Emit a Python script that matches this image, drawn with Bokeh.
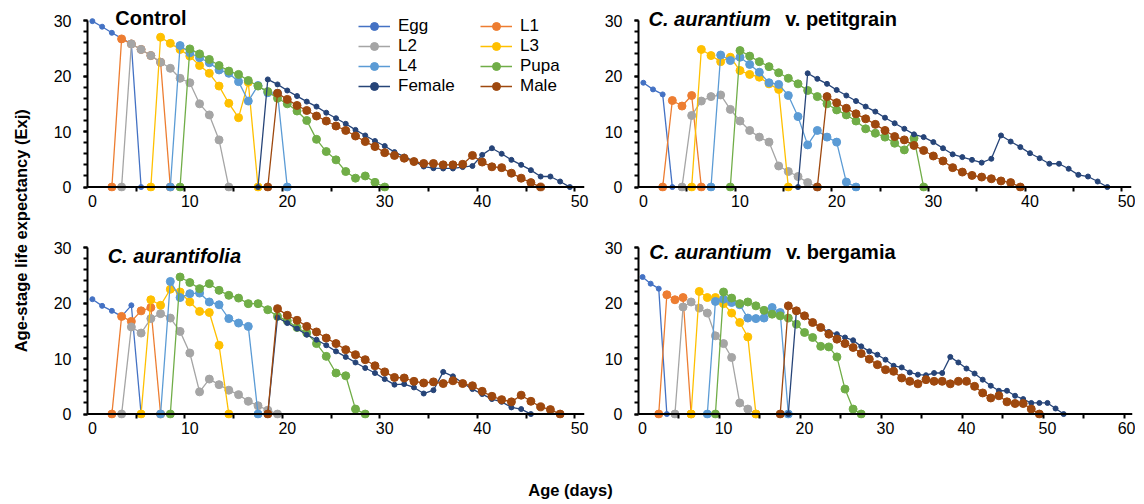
import math
from bokeh.plotting import figure
from bokeh.models import Range1d, FixedTicker, Label, Legend, LegendItem, Span
from bokeh.layouts import row, column
from bokeh.embed import file_html
from bokeh.resources import INLINE

STAGES = ["Egg", "L1", "L2", "L3", "L4", "Pupa", "Female", "Male"]
COLORS = ["#4472C4", "#ED7D31", "#A5A5A5", "#FFC000", "#5B9BD5", "#70AD47", "#264478", "#9E480E"]
SIZES = [5, 8, 8, 8, 8, 8, 5, 8]

# ---------------- Control ----------------
ctrl_start = [0, 2, 3, 6, 8, 9, 17, 18]
ctrl_egg = [29.9, 28.9, 27.8, 26.8, 25.8, 0]
ctrl_l1 = [0, 26.7, 25.8, 24.8, 23.7, 22.5, 0]
ctrl_l2 = [0, 25.8, 24.8, 23.7, 22.5, 21.4, 19.6, 18.8, 15.0, 13.0, 8.5, 0]
ctrl_l3 = [0, 27.0, 25.9, 24.8, 23.6, 21.9, 20.5, 18.2, 15.1, 12.5, 18.9, 0]
ctrl_l4 = [0, 25.5, 24.2, 23.3, 22.4, 21.1, 20.5, 19.0, 15.5, 18.3, 17.0, 16.9, 0]
ctrl_pupa = [0, 24.9, 24.0, 23.0, 21.9, 20.9, 20.3, 19.2, 18.2, 17.2, 16.0, 15.0, 13.7,
             12.0, 8.6, 6.4, 4.9, 2.8, 1.6, 2.0, 0.85, 0]
ctrl_female = [0, 19.4, 18.5, 17.4, 16.4, 15.4, 14.5, 13.4, 12.4, 11.4, 10.3, 9.3, 8.3,
               7.4, 6.3, 5.5, 4.7, 3.7, 3.4, 3.35, 3.35, 3.6, 3.8, 5.8, 7.0, 6.0, 4.9,
               4.0, 3.05, 1.9, 1.9, 1.0, 0]
ctrl_male = [0, 16.9, 15.8, 14.7, 13.8, 12.8, 11.9, 11.0, 10.2, 9.2, 8.2, 7.3, 6.2, 5.7,
             5.2, 4.6, 4.25, 4.25, 4.0, 4.0, 4.1, 5.7, 4.5, 3.65, 3.5, 2.5, 1.6, 0.8, 0]

# ---------------- C. aurantium v. petitgrain ----------------
pet_start = [0, 2, 4, 5, 7, 9, 16, 18]
pet_egg = [18.8, 17.6, 16.7, 0]
pet_l1 = [0, 15.6, 14.6, 16.5, 0]
pet_l2 = [0, 12.9, 15.5, 16.3, 16.6, 14.0, 11.9, 10.2, 9.0, 8.1, 3.8, 2.8, 1.9, 0.8, 0]
pet_l3 = [0, 24.8, 23.7, 22.6, 23.4, 21.0, 20.3, 19.8, 18.6, 17.6, 0]
pet_l4 = [0, 23.8, 22.8, 23.4, 22.1, 20.7, 18.8, 18.5, 16.5, 12.7, 7.6, 10.2, 9.0, 8.1, 0.9, 0]
pet_pupa = [0, 24.6, 23.6, 22.6, 21.7, 20.6, 19.6, 18.6, 17.4, 16.3, 15.0, 13.9, 13.0,
            11.9, 10.5, 9.7, 9.0, 7.9, 6.7, 8.8, 0]
pet_female = [0, 20.5, 19.5, 18.6, 17.5, 16.5, 15.5, 14.5, 13.6, 12.5, 11.5, 10.5, 9.5,
              9.0, 8.1, 7.0, 5.9, 5.4, 4.9, 4.4, 5.1, 9.3, 8.2, 7.2, 6.1, 5.2, 4.2, 4.2,
              3.3, 2.2, 1.9, 1.0, 0]
pet_male = [0, 16.3, 15.2, 14.2, 13.2, 12.3, 11.3, 10.2, 9.1, 8.5, 7.5, 6.6, 5.6, 4.7,
            3.5, 2.7, 2.1, 1.8, 1.5, 1.1, 0.8, 0]

# ---------------- C. aurantifolia ----------------
lim_start = [0, 2, 3, 5, 7, 8, 18, 18]
lim_egg = [20.7, 19.5, 18.6, 17.6, 19.6, 0]
lim_l1 = [0, 17.6, 16.7, 18.6, 19.2, 0]
lim_l2 = [0, 15.7, 14.6, 17.2, 18.1, 17.3, 14.9, 11.0, 4.0, 6.3, 5.3, 4.3, 3.5, 2.3, 1.5, 0.7, 0]
lim_l3 = [0, 20.6, 19.6, 22.5, 22.0, 20.2, 18.5, 18.3, 12.4, 0]
lim_l4 = [0, 23.9, 21.0, 21.7, 21.8, 20.2, 19.7, 17.2, 16.4, 15.8, 0]
lim_pupa = [0, 24.7, 23.7, 22.6, 23.5, 22.3, 21.4, 20.9, 19.9, 19.9, 18.8, 17.6, 16.8,
            15.6, 14.6, 12.7, 10.4, 7.4, 6.9, 0.9, 0]
lim_female = [0, 17.4, 16.4, 15.4, 14.3, 13.4, 12.4, 11.3, 10.3, 9.3, 8.3, 7.4, 6.3, 5.3,
              5.4, 4.8, 3.7, 4.3, 7.6, 6.8, 5.6, 4.5, 3.6, 2.7, 2.2, 1.2, 0.9, 0]
lim_male = [0, 19.0, 17.8, 16.9, 15.8, 14.8, 13.7, 12.7, 11.6, 10.7, 9.8, 8.7, 7.6, 6.6,
            6.5, 5.9, 5.6, 5.8, 5.5, 6.0, 5.5, 5.1, 4.1, 3.2, 2.6, 2.2, 3.4, 2.3, 1.3, 0.8, 0]

# ---------------- C. aurantium v. bergamia ----------------
ber_start = [0, 2, 4, 6, 8, 9, 18, 17]
ber_egg = [24.7, 23.5, 22.6, 0]
ber_l1 = [0, 21.5, 20.6, 21.0, 0]
ber_l2 = [0, 19.3, 20.2, 19.1, 18.2, 14.1, 12.7, 10.2, 2.0, 0.9, 0]
ber_l3 = [0, 22.1, 21.0, 21.0, 19.9, 18.2, 16.5, 13.9, 0]
ber_l4 = [0, 20.3, 20.7, 20.1, 19.7, 17.3, 17.2, 17.3, 19.2, 18.3, 0]
ber_pupa = [0, 22.0, 20.9, 19.9, 20.2, 19.5, 18.7, 18.0, 17.7, 17.3, 16.2, 14.7, 13.8,
            12.2, 12.1, 10.3, 4.5, 0.9, 0]
ber_female = [0, 18.6, 17.7, 16.5, 15.6, 14.8, 14.4, 13.8, 13.3, 12.2, 11.3, 10.7, 9.8,
              8.7, 8.4, 7.5, 7.1, 7.0, 7.4, 7.4, 10.3, 9.3, 8.2, 7.3, 6.2, 5.1, 4.2, 4.2,
              3.3, 2.7, 2.0, 2.0, 2.0, 1.0, 0]
ber_male = [0, 19.5, 18.6, 17.7, 16.5, 15.6, 14.4, 13.5, 12.7, 12.0, 10.9, 9.9, 8.9, 8.0,
            7.7, 6.5, 5.9, 5.45, 6.2, 5.9, 5.9, 5.45, 5.9, 5.9, 5.0, 3.8, 2.9, 3.3, 2.2,
            1.9, 1.9, 0.9, 0]

X_TICK_LABELS = [0, 10, 20, 30, 40, 50, 60]
Y_TICKS = [0, 10, 20, 30]

FONT = "Liberation Sans"
FH = 182
Y0, Y1 = -0.8, 32.0


def make_panel(starts, series, x_max, fw, bl, br, bt, bb):
    p = figure(frame_width=fw, frame_height=FH,
               x_range=Range1d(-0.5, x_max + 0.5), y_range=Range1d(Y0, Y1),
               min_border_left=bl, min_border_right=br,
               min_border_top=bt, min_border_bottom=bb,
               toolbar_location=None, output_backend="svg",
               outline_line_color=None)
    p.grid.visible = False

    xa = p.xaxis[0]
    xa.ticker = FixedTicker(ticks=[t for t in X_TICK_LABELS if t <= x_max],
                            minor_ticks=[m - 0.5 for m in range(5, x_max + 1, 5)])
    xa.axis_line_color = None
    xa.major_tick_line_color = None
    xa.major_tick_in = 0
    xa.major_tick_out = 0
    xa.minor_tick_in = 5
    xa.minor_tick_out = 0
    xa.minor_tick_line_color = "black"
    xa.minor_tick_line_width = 2
    xa.major_label_standoff = 3
    xa.major_label_text_font = FONT
    xa.major_label_text_font_size = "16px"
    xa.major_label_text_color = "#000000"
    p.add_layout(Span(location=0, dimension="width", line_color="black", line_width=2))

    ya = p.yaxis[0]
    ya.bounds = (0, 30)
    ya.ticker = FixedTicker(ticks=Y_TICKS, minor_ticks=list(range(0, 31, 2)))
    ya.major_tick_in = 0
    ya.major_tick_out = 4
    ya.minor_tick_in = 0
    ya.minor_tick_out = 4
    ya.major_tick_line_color = "black"
    ya.major_tick_line_width = 2
    ya.minor_tick_line_color = "black"
    ya.minor_tick_line_width = 2
    ya.axis_line_color = "black"
    ya.axis_line_width = 2
    ya.major_label_standoff = 12
    ya.major_label_text_font = FONT
    ya.major_label_text_font_size = "16px"
    ya.major_label_text_color = "#000000"

    rends = []
    for i, (s, vals) in enumerate(zip(starts, series)):
        xs = list(range(s, s + len(vals)))
        l = p.line(xs, vals, line_color=COLORS[i], line_width=1.3)
        sc = p.scatter(xs, vals, size=SIZES[i], fill_color=COLORS[i], line_color=COLORS[i])
        rends.append([l, sc])
    return p, rends


def add_title(p, x, y, text, style):
    p.add_layout(Label(x=x, y=y, text=text, text_font=FONT, text_font_size="20px",
                       text_font_style=style, text_baseline="middle", text_align="left",
                       text_color="black"))


p1, r1 = make_panel(ctrl_start, [ctrl_egg, ctrl_l1, ctrl_l2, ctrl_l3, ctrl_l4, ctrl_pupa,
                                 ctrl_female, ctrl_male], 50, 497, 55, 10, 9, 36)
p2, _ = make_panel(pet_start, [pet_egg, pet_l1, pet_l2, pet_l3, pet_l4, pet_pupa,
                               pet_female, pet_male], 50, 493, 44, 4, 9, 36)
p3, _ = make_panel(lim_start, [lim_egg, lim_l1, lim_l2, lim_l3, lim_l4, lim_pupa,
                               lim_female, lim_male], 50, 497, 55, 10, 9, 30)
p4, _ = make_panel(ber_start, [ber_egg, ber_l1, ber_l2, ber_l3, ber_l4, ber_pupa,
                               ber_female, ber_male], 60, 494, 44, 3, 9, 30)

add_title(p1, 2.36, 30.5, "Control", "bold")
add_title(p2, 0.54, 30.2, "C. aurantium", "bold italic")
add_title(p2, 14.67, 30.2, "v. petitgrain", "bold")
add_title(p3, 1.57, 28.4, "C. aurantifolia", "bold italic")
add_title(p4, 0.84, 29.2, "C. aurantium", "bold italic")
add_title(p4, 17.7, 29.2, "v. bergamia", "bold")

items = [LegendItem(label=STAGES[i], renderers=r1[i]) for i in range(8)]
legend = Legend(items=items, location=(271, 95), orientation="horizontal", ncols=2,
                border_line_color=None, background_fill_alpha=0, padding=0, margin=0,
                glyph_width=32, glyph_height=20, label_height=20, label_width=82,
                label_standoff=8, spacing=0, label_text_font=FONT,
                label_text_font_size="17px", label_text_color="black")
p1.add_layout(legend)

ylab = figure(width=32, height=448, x_range=Range1d(0, 32), y_range=Range1d(0, 448),
              min_border=0, x_axis_type=None, y_axis_type=None, outline_line_color=None,
              toolbar_location=None, output_backend="svg")
ylab.grid.visible = False
ylab.add_layout(Label(x=20, y=220, text="Age-stage life expectancy  (Exj)", angle=math.pi / 2,
                      text_align="center", text_baseline="middle", text_font=FONT,
                      text_font_size="16.5px", text_font_style="bold", text_color="black"))

xlab = figure(width=1135, height=56, x_range=Range1d(0, 1135), y_range=Range1d(0, 56),
              min_border=0, x_axis_type=None, y_axis_type=None, outline_line_color=None,
              toolbar_location=None, output_backend="svg")
xlab.grid.visible = False
xlab.add_layout(Label(x=570, y=15, text="Age (days)", text_align="center",
                      text_baseline="middle", text_font=FONT, text_font_size="16.5px",
                      text_font_style="bold", text_color="black"))

grid = column(row(p1, p2), row(p3, p4))
layout = column(row(ylab, grid), xlab)

open("out.html", "w").write(file_html(layout, INLINE))
